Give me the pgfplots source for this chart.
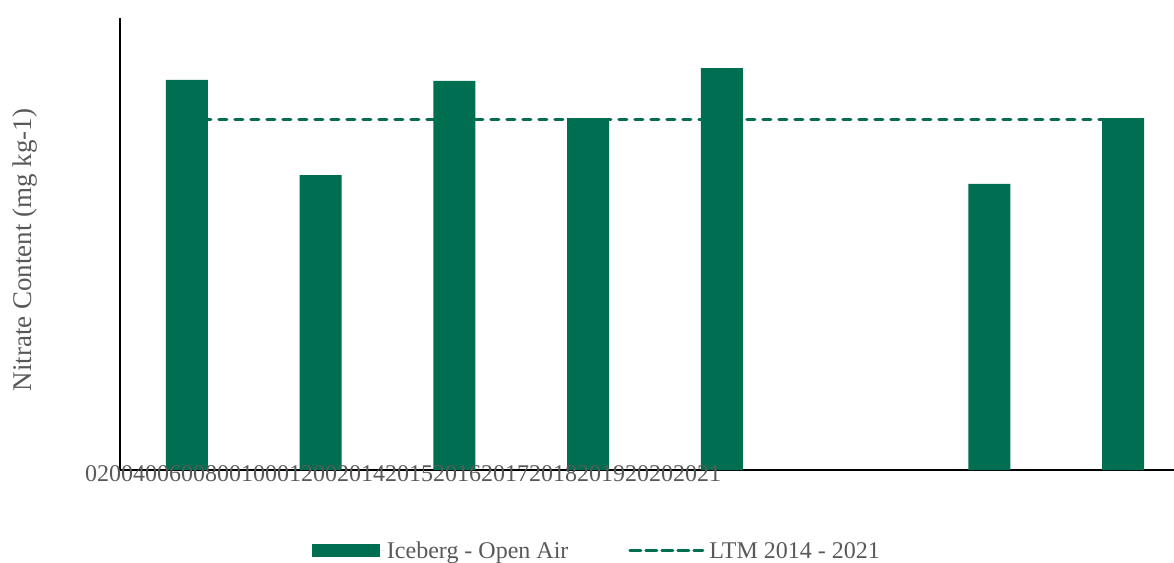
\documentclass[border=0pt]{standalone}
\usepackage{fontspec}
\setmainfont{Liberation Serif}
\usepackage{pgfplots}
\pgfplotsset{compat=1.18}
\definecolor{barc}{RGB}{0,111,81}
\definecolor{txt}{RGB}{89,89,89}
\begin{document}
\begin{tikzpicture}[x=1pt,y=1pt]
\path[use as bounding box] (0,0) rectangle (1174,562);
\begin{axis}[
 at={(120pt,92pt)}, anchor=south west,
 scale only axis, width=1054pt, height=452pt,
 xmin=-0.5, xmax=7.38, ymin=0, ymax=1400,
 axis x line=bottom, axis y line=left,
 axis line style={-, black, line width=1.5pt},
 xtick=\empty, ytick=\empty,
 clip=false,
 ylabel={Nitrate Content (mg kg-1)},
 ylabel style={at={(rel axis cs:-0.0901,0.487)}, anchor=center, font=\fontsize{27}{30}\selectfont, text=txt},
 legend columns=2,
 legend style={at={(rel axis cs:0.4525,-0.179)}, anchor=center, draw=none, fill=none,
   font=\fontsize{24}{28}\selectfont, text=txt,
   /tikz/every even column/.append style={column sep=58pt}},
]
\addplot[barc, line width=3pt, dash pattern=on 8pt off 8pt, line cap=round, forget plot]
  coordinates {(0,1086)(7,1086)};
\addplot[ybar, bar width=42pt, fill=barc, draw=none,
  legend image code/.code={\fill[barc] (0pt,-6.5pt) rectangle (68pt,6.5pt);\path (0pt,0pt) -- (73pt,0pt);}]
  coordinates {(0,1208)(1,913)(2,1205)(3,1090)(4,1245)(6,886)(7,1090)};
\addlegendentry{Iceberg - Open Air}
\addlegendimage{barc, line width=3pt, dash pattern=on 8pt off 8pt, line cap=round,
  legend image code/.code={\draw (3pt,0pt) -- (73pt,0pt);\path (0pt,0pt) -- (76pt,0pt);}}
\addlegendentry{LTM 2014 - 2021}
\node[anchor=base west, font=\fontsize{24}{28}\selectfont, text=txt, inner sep=0pt]
  at ([xshift=-35pt,yshift=-11pt]rel axis cs:0,0) {02004006008001000120020142015201620172018201920202021};
\end{axis}
\end{tikzpicture}
\end{document}
